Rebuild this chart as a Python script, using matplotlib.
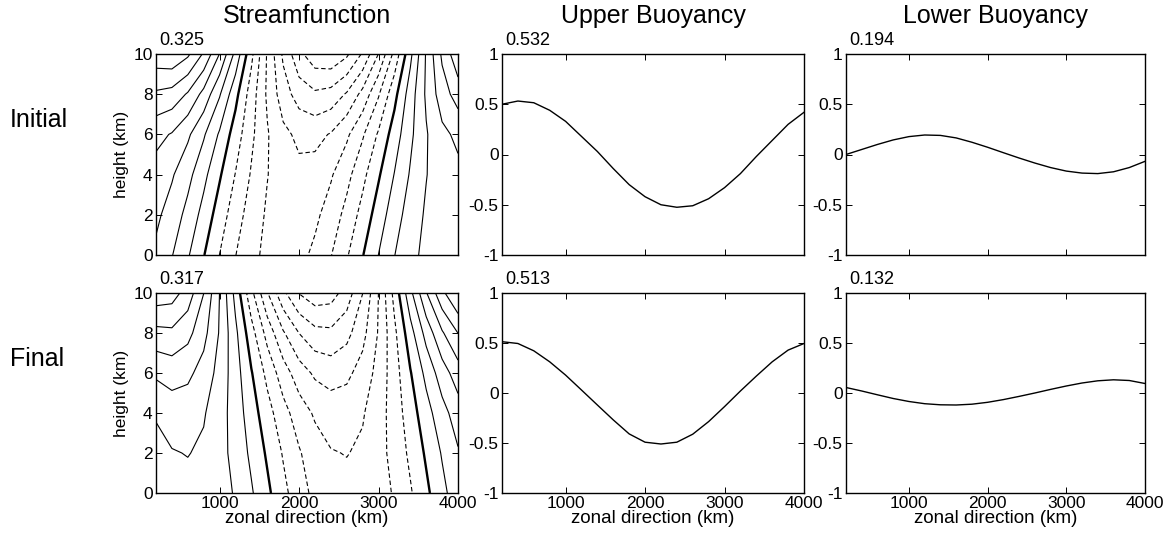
import matplotlib
matplotlib.use("Agg")
import matplotlib.pyplot as plt

plt.rcParams['font.family'] = ['Liberation Sans', 'DejaVu Sans']

# ---------------- data ----------------
x_km = [200, 400, 600, 800, 1000, 1200, 1400, 1600, 1800, 2000,
        2200, 2400, 2600, 2800, 3000, 3200, 3400, 3600, 3800, 4000]
z_km = [0, 2, 4, 6, 8, 10]

# streamfunction, rows = heights in z_km, columns = x_km
psi_initial = [
    [0.116, 0.085, 0.046, 0.002, -0.042, -0.082, -0.114, -0.134, -0.142, -0.136,
     -0.116, -0.085, -0.046, -0.002, 0.042, 0.082, 0.114, 0.134, 0.142, 0.136],
    [0.133, 0.107, 0.070, 0.027, -0.020, -0.064, -0.102, -0.130, -0.146, -0.147,
     -0.133, -0.107, -0.070, -0.027, 0.020, 0.064, 0.102, 0.130, 0.146, 0.147],
    [0.150, 0.129, 0.096, 0.053, 0.005, -0.043, -0.087, -0.123, -0.147, -0.156,
     -0.150, -0.129, -0.096, -0.053, -0.005, 0.043, 0.087, 0.123, 0.147, 0.156],
    [0.178, 0.163, 0.132, 0.088, 0.036, -0.020, -0.074, -0.121, -0.156, -0.175,
     -0.178, -0.163, -0.132, -0.088, -0.036, 0.020, 0.074, 0.121, 0.156, 0.175],
    [0.242, 0.234, 0.203, 0.153, 0.087, 0.013, -0.062, -0.131, -0.188, -0.226,
     -0.242, -0.234, -0.203, -0.153, -0.087, -0.013, 0.062, 0.131, 0.188, 0.226],
    [0.317, 0.324, 0.298, 0.244, 0.165, 0.071, -0.031, -0.129, -0.215, -0.280,
     -0.317, -0.324, -0.298, -0.244, -0.165, -0.071, 0.031, 0.129, 0.215, 0.280],
]
psi_final = [
    [0.094, 0.108, 0.112, 0.110, 0.100, 0.079, 0.046, 0.009, -0.030, -0.065,
     -0.094, -0.108, -0.112, -0.110, -0.100, -0.079, -0.046, -0.009, 0.030, 0.065],
    [0.106, 0.122, 0.126, 0.118, 0.098, 0.069, 0.033, -0.006, -0.045, -0.079,
     -0.106, -0.122, -0.126, -0.118, -0.098, -0.069, -0.033, 0.006, 0.045, 0.079],
    [0.130, 0.144, 0.143, 0.128, 0.101, 0.064, 0.020, -0.025, -0.068, -0.104,
     -0.130, -0.144, -0.143, -0.128, -0.101, -0.064, -0.020, 0.025, 0.068, 0.104],
    [0.173, 0.183, 0.175, 0.150, 0.110, 0.060, 0.003, -0.053, -0.105, -0.146,
     -0.173, -0.183, -0.175, -0.150, -0.110, -0.060, -0.003, 0.053, 0.105, 0.146],
    [0.236, 0.240, 0.220, 0.179, 0.121, 0.051, -0.025, -0.098, -0.161, -0.208,
     -0.236, -0.240, -0.220, -0.179, -0.121, -0.051, 0.025, 0.098, 0.161, 0.208],
    [0.316, 0.309, 0.272, 0.208, 0.124, 0.028, -0.071, -0.163, -0.239, -0.292,
     -0.316, -0.309, -0.272, -0.208, -0.124, -0.028, 0.071, 0.163, 0.239, 0.292],
]
contour_levels = [-0.2905, -0.249, -0.2075, -0.166, -0.1245, -0.083, -0.0415, 0.0,
                  0.0415, 0.083, 0.1245, 0.166, 0.2075, 0.249, 0.2905]

upper_initial = [0.50, 0.532, 0.515, 0.44, 0.33, 0.18, 0.03, -0.14, -0.30, -0.42,
                 -0.50, -0.525, -0.51, -0.44, -0.33, -0.19, -0.02, 0.14, 0.30, 0.42]
upper_final = [0.513, 0.495, 0.422, 0.312, 0.179, 0.030, -0.120, -0.269, -0.409, -0.492,
               -0.510, -0.492, -0.412, -0.286, -0.136, 0.020, 0.169, 0.312, 0.429, 0.495]
lower_initial = [0.0, 0.05, 0.10, 0.145, 0.178, 0.194, 0.19, 0.165, 0.122, 0.072,
                 0.018, -0.035, -0.085, -0.13, -0.165, -0.185, -0.19, -0.172, -0.13, -0.068]
lower_final = [0.055, 0.02, -0.018, -0.055, -0.085, -0.107, -0.118, -0.12, -0.112, -0.093,
               -0.066, -0.034, 0.0, 0.036, 0.07, 0.10, 0.122, 0.132, 0.125, 0.095]

col_titles = ["Streamfunction", "Upper Buoyancy", "Lower Buoyancy"]
row_labels = ["Initial", "Final"]
max_labels = [["0.325", "0.532", "0.194"], ["0.317", "0.513", "0.132"]]
x_ticks = [1000, 2000, 3000, 4000]
z_ticks = [0, 2, 4, 6, 8, 10]
b_ticks = [-1, -0.5, 0, 0.5, 1]
b_ticklabels = ["-1", "-0.5", "0", "0.5", "1"]

# ---------------- figure ----------------
W, H = 1165, 543
fig = plt.figure(figsize=(W / 100, H / 100), dpi=100)

col_left = [156, 502, 846]
col_w = [302, 302, 299]
row_top = [54, 293]
row_h = [201, 200]

def axes_at(c, r):
    l = col_left[c] / W
    b = 1 - (row_top[r] + row_h[r]) / H
    return fig.add_axes([l, b, col_w[c] / W, row_h[r] / H])

psis = [psi_initial, psi_final]
uppers = [upper_initial, upper_final]
lowers = [lower_initial, lower_final]

lw_lines = [1.7 if lv == 0 else 0.8 for lv in contour_levels]
ls_lines = ['-' if lv >= 0 else (0, (4, 2.5)) for lv in contour_levels]

for r in range(2):
    axs = [axes_at(c, r) for c in range(3)]
    # streamfunction
    ax = axs[0]
    ax.contour(x_km, z_km, psis[r], levels=contour_levels, colors='k',
               linewidths=lw_lines, linestyles=ls_lines)
    ax.set_ylim(0, 10)
    ax.set_yticks(z_ticks)
    ax.set_ylabel("height (km)", fontsize=12.5, labelpad=3)
    # buoyancy
    axs[1].plot(x_km, uppers[r], color='k', lw=1.0)
    axs[2].plot(x_km, lowers[r], color='k', lw=1.0)
    for a in axs[1:]:
        a.set_ylim(-1, 1)
        a.set_yticks(b_ticks)
        a.set_yticklabels(b_ticklabels)
    for c, a in enumerate(axs):
        a.set_xlim(200, 4000)
        a.set_xticks(x_ticks)
        a.tick_params(direction='in', top=True, right=True, length=4, width=0.7,
                      labelsize=12.5, pad=2.5)
        for s in a.spines.values():
            s.set_linewidth(1.0)
        if r == 0:
            a.set_xticklabels([])
            a.set_title(col_titles[c], fontsize=18, pad=22)
        else:
            a.set_xlabel("zonal direction (km)", fontsize=13.5, labelpad=-1)
        a.text(0.01, 1.045, max_labels[r][c], transform=a.transAxes,
               ha='left', va='baseline', fontsize=13)
    yc = 1 - (row_top[r] + 0.33 * row_h[r]) / H
    fig.text(10 / W, yc, row_labels[r], ha='left', va='center', fontsize=18)

fig.savefig("out.png", dpi=100)
